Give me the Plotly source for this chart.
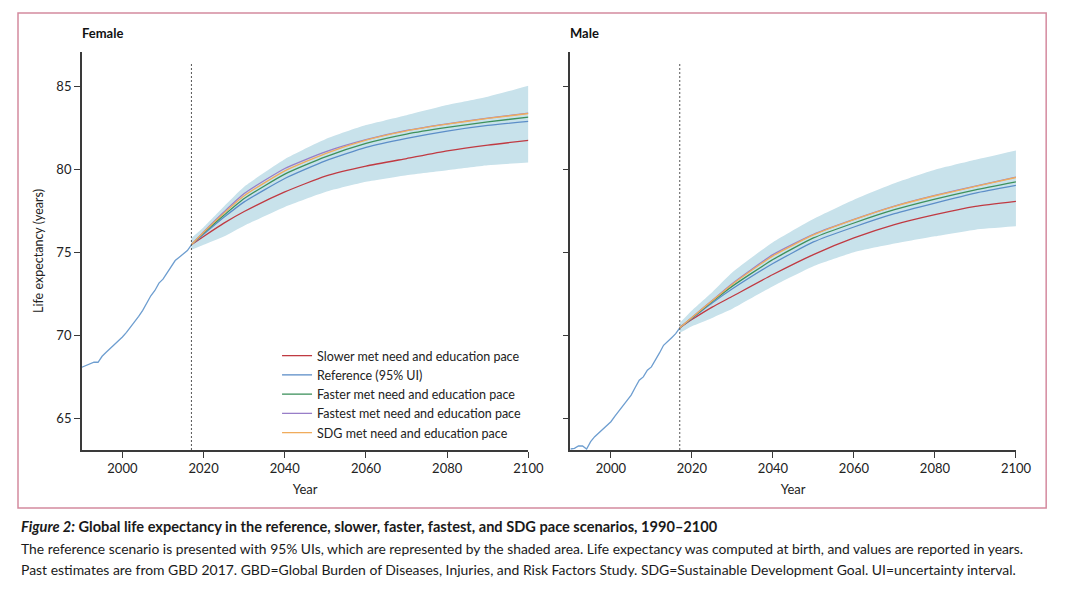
import plotly.graph_objects as go

# ---------------- data ----------------
hist_years = list(range(1990, 2018))
female_hist = [68.08, 68.18, 68.30, 68.38, 68.38, 68.74, 68.98, 69.20, 69.44, 69.64,
               69.90, 70.18, 70.48, 70.78, 71.14, 71.50, 71.94, 72.38, 72.70, 73.14,
               73.38, 73.74, 74.14, 74.50, 74.70, 74.88, 75.10, 75.45]
male_hist = [63.16, 63.20, 63.34, 63.34, 63.16, 63.60, 63.90, 64.14, 64.34, 64.56,
             64.80, 65.14, 65.46, 65.78, 66.10, 66.40, 66.86, 67.30, 67.50, 67.90,
             68.10, 68.50, 68.94, 69.40, 69.66, 69.86, 70.10, 70.45]

fc_years = [2017, 2020, 2025, 2030, 2040, 2050, 2060, 2070, 2080, 2090, 2100]

female_slower = [75.45, 75.95, 76.75, 77.45, 78.63, 79.58, 80.18, 80.64, 81.10, 81.45, 81.73]
female_ref = [75.45, 76.08, 77.10, 78.03, 79.44, 80.50, 81.31, 81.85, 82.29, 82.63, 82.87]
female_faster = [75.45, 76.15, 77.22, 78.23, 79.70, 80.74, 81.55, 82.11, 82.51, 82.85, 83.13]
female_fastest = [75.45, 76.22, 77.42, 78.53, 80.04, 81.04, 81.77, 82.33, 82.73, 83.07, 83.37]
female_sdg = [75.45, 76.20, 77.35, 78.40, 79.90, 80.94, 81.75, 82.31, 82.71, 83.05, 83.35]
female_lower = [75.15, 75.45, 75.95, 76.60, 77.73, 78.63, 79.24, 79.64, 79.94, 80.24, 80.40]
female_upper = [75.85, 76.50, 77.75, 78.94, 80.60, 81.80, 82.65, 83.25, 83.86, 84.36, 85.02]

male_slower = [70.45, 70.95, 71.70, 72.35, 73.66, 74.86, 75.86, 76.66, 77.26, 77.76, 78.06]
male_ref = [70.45, 71.02, 71.95, 72.80, 74.32, 75.62, 76.52, 77.32, 77.96, 78.56, 79.02]
male_faster = [70.45, 71.05, 72.03, 72.96, 74.56, 75.86, 76.76, 77.56, 78.20, 78.76, 79.24]
male_fastest = [70.45, 71.08, 72.10, 73.12, 74.86, 76.08, 76.98, 77.78, 78.42, 78.98, 79.52]
male_sdg = [70.45, 71.07, 72.08, 73.08, 74.78, 76.04, 76.96, 77.76, 78.40, 78.96, 79.50]
male_lower = [70.15, 70.55, 71.05, 71.60, 72.96, 74.16, 75.00, 75.52, 75.96, 76.36, 76.56]
male_upper = [70.75, 71.50, 72.60, 73.80, 75.60, 77.00, 78.16, 79.15, 79.96, 80.56, 81.12]

scenario_names = ["Slower met need and education pace", "Reference (95% UI)",
                  "Faster met need and education pace", "Fastest met need and education pace",
                  "SDG met need and education pace"]
x_ticks = [2000, 2020, 2040, 2060, 2080, 2100]
y_ticks = [65, 70, 75, 80, 85]

# ---------------- style / geometry ----------------
W, H = 1080, 589
XS = 1.0152
FONT = "Lato"


def px(x):  # layout x (px) -> paper
    return x * XS / W


def py(y):  # layout y (px from top) -> paper
    return (H - y) / H


band_color = "rgb(200,226,235)"
colors = ["rgb(192,58,66)", "rgb(92,142,200)", "rgb(62,145,92)",
          "rgb(152,126,200)", "rgb(240,172,92)"]
hist_color = "rgb(110,158,208)"

fig = go.Figure()

panels = [
    ("x", "y", female_hist, [female_slower, female_ref, female_faster, female_fastest, female_sdg],
     female_lower, female_upper, True),
    ("x2", "y2", male_hist, [male_slower, male_ref, male_faster, male_fastest, male_sdg],
     male_lower, male_upper, False),
]

for xa, ya, hist, series, lower, upper, legend in panels:
    fig.add_trace(go.Scatter(x=fc_years, y=upper, xaxis=xa, yaxis=ya, mode="lines",
                             line=dict(width=0, color=band_color, shape="spline", smoothing=0.5),
                             showlegend=False, hoverinfo="skip"))
    fig.add_trace(go.Scatter(x=fc_years, y=lower, xaxis=xa, yaxis=ya, mode="lines",
                             line=dict(width=0, color=band_color, shape="spline", smoothing=0.5),
                             fill="tonexty", fillcolor=band_color,
                             showlegend=False, hoverinfo="skip"))
    fig.add_trace(go.Scatter(x=hist_years, y=hist, xaxis=xa, yaxis=ya, mode="lines",
                             line=dict(width=1.3, color=hist_color),
                             showlegend=False))
    for name, vals, c in zip(scenario_names, series, colors):
        fig.add_trace(go.Scatter(x=fc_years, y=vals, xaxis=xa, yaxis=ya, mode="lines",
                                 name=name, line=dict(width=1.3, color=c, shape="spline", smoothing=0.5),
                                 showlegend=legend))

x_px = [(81.8, 528.3), (570.3, 1015.8)]
y_top, y_bot = 52, 450
ydom = [py(y_bot), py(y_top)]

axis_common = dict(showline=True, linecolor="#3a3a3a", linewidth=1.5, ticks="outside",
                   ticklen=6, tickwidth=1.3, tickcolor="#3a3a3a", showgrid=False, zeroline=False,
                   tickfont=dict(family=FONT, size=13, color="#222"))

fig.update_layout(
    width=W, height=H, margin=dict(l=0, r=0, t=0, b=0),
    paper_bgcolor="white", plot_bgcolor="white",
    showlegend=True,
    legend=dict(x=px(277), y=py(341), xanchor="left", yanchor="top", traceorder="normal",
                font=dict(family=FONT, size=12.5, color="#222"), bgcolor="rgba(0,0,0,0)",
                tracegroupgap=0, itemwidth=30),
    xaxis=dict(domain=[px(x_px[0][0]), px(x_px[0][1])], range=[1990, 2100], tickvals=x_ticks,
               anchor="y", title=dict(text="Year", font=dict(family=FONT, size=13, color="#222"), standoff=10),
               **axis_common),
    yaxis=dict(domain=ydom, range=[63.1, 87.05], tickvals=y_ticks, anchor="x",
               title=dict(text="Life expectancy (years)", font=dict(family=FONT, size=12.5, color="#222"), standoff=10),
               **axis_common),
    xaxis2=dict(domain=[px(x_px[1][0]), px(x_px[1][1])], range=[1990, 2100], tickvals=x_ticks,
                anchor="y2", title=dict(text="Year", font=dict(family=FONT, size=13, color="#222"), standoff=10),
                **axis_common),
    yaxis2=dict(domain=ydom, range=[63.1, 87.05], tickvals=y_ticks, anchor="x2",
                showticklabels=False, **axis_common),
)

# vertical dashed line at 2017 (last year of past estimates)
for xr in ["x", "x2"]:
    fig.add_shape(type="line", xref=xr, yref="paper", x0=hist_years[-1], x1=hist_years[-1],
                  y0=ydom[0], y1=py(62),
                  line=dict(color="#555", width=1, dash="2px,2px"))

# panel titles
fig.add_annotation(text="<b>Female</b>", xref="paper", yref="paper", x=px(80), y=py(33),
                   xanchor="left", yanchor="middle", showarrow=False,
                   font=dict(family=FONT, size=13, color="#111"))
fig.add_annotation(text="<b>Male</b>", xref="paper", yref="paper", x=px(568), y=py(33),
                   xanchor="left", yanchor="middle", showarrow=False,
                   font=dict(family=FONT, size=13, color="#111"))

# border
fig.add_shape(type="rect", xref="paper", yref="paper", x0=px(18), x1=px(1046),
              y0=py(508), y1=py(13), line=dict(color="rgb(212,138,158)", width=1.5))

# caption
caption = [
    ("<b><i>Figure 2:</i> Global life expectancy in the reference, slower, faster, fastest, and SDG pace scenarios, 1990–2100</b>", 14.6),
    ("The reference scenario is presented with 95% UIs, which are represented by the shaded area. Life expectancy was computed at birth, and values are reported in years.", 13.85),
    ("Past estimates are from GBD 2017. GBD=Global Burden of Diseases, Injuries, and Risk Factors Study. SDG=Sustainable Development Goal. UI=uncertainty interval.", 13.95),
]
for (txt, fs), ypx in zip(caption, [526, 548, 569]):
    fig.add_annotation(text=txt, xref="paper", yref="paper", x=px(19), y=py(ypx),
                       xanchor="left", yanchor="middle", showarrow=False,
                       font=dict(family=FONT, size=fs, color="#1a1a1a"))

fig.write_html("out.html", config={"displayModeBar": False},
               post_script="document.body.style.margin='0';document.body.style.overflow='hidden';")
